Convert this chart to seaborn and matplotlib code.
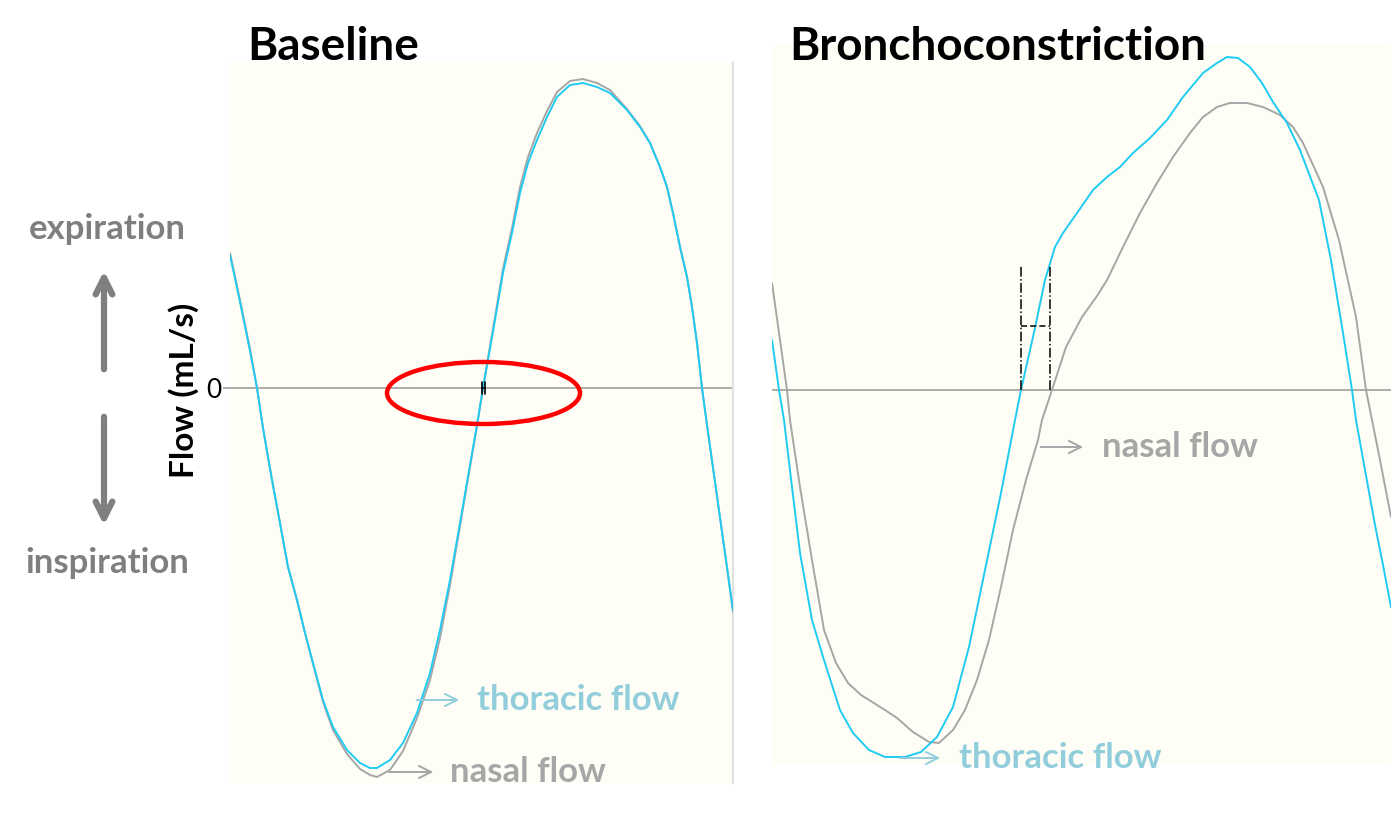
import matplotlib.pyplot as plt
from matplotlib.patches import Ellipse
import pandas as pd
import seaborn as sns

# time (ms from start of window) and flow (mL/s, arbitrary scale, 0 = no flow)
base_t = [0, 10, 20, 27, 33, 42, 50, 58, 67, 75, 83, 93, 103, 117, 130, 140, 147, 160, 173, 187,
          200, 210, 220, 230, 240, 247, 253, 258, 265, 273, 282, 290, 298, 307, 317, 327, 340,
          353, 367, 380, 397, 410, 420, 430, 437, 443, 450, 457, 462, 467, 472, 477, 485, 495, 503]
base_thoracic = [133, 86, 37, 0, -40, -92, -135, -179, -212, -245, -275, -312, -339, -362, -375,
                 -380, -380, -372, -355, -325, -285, -242, -192, -135, -77, -37, 0, 28, 68, 115,
                 155, 195, 225, 248, 271, 291, 303, 305, 301, 295, 278, 261, 245, 221, 201, 175,
                 141, 111, 81, 45, 0, -37, -94, -165, -222]
base_nasal = [135, 88, 39, 0, -40, -92, -135, -179, -212, -245, -276, -314, -342, -366, -381,
              -387, -389, -382, -363, -330, -292, -250, -197, -138, -79, -38, 0, 30, 71, 119,
              160, 201, 231, 255, 277, 296, 307, 309, 305, 298, 279, 262, 245, 221, 201, 175,
              141, 111, 81, 45, 0, -37, -94, -165, -224]

broncho_t_thoracic = [0, 7, 12, 20, 28, 40, 52, 68, 81, 97, 113, 133, 149, 165, 181, 197, 213,
                      229, 243, 249, 263, 273, 283, 291, 305, 321, 335, 348, 361, 378, 395, 411,
                      431, 445, 455, 466, 478, 490, 501, 515, 528, 547, 559, 571, 580, 584, 593,
                      603, 611, 619]
broncho_thoracic = [50, 0, -30, -97, -163, -230, -270, -320, -343, -360, -367, -367, -362, -347,
                    -317, -257, -180, -103, -30, 0, 62, 110, 143, 157, 177, 200, 213, 223, 237,
                    252, 270, 293, 317, 327, 333, 332, 323, 307, 288, 267, 240, 190, 130, 57, 0,
                    -30, -80, -135, -175, -217]
broncho_t_nasal = [0, 8, 15, 18, 28, 40, 52, 64, 76, 89, 113, 125, 141, 157, 167, 181, 193, 205,
                   217, 229, 241, 254, 266, 270, 280, 294, 310, 325, 335, 351, 368, 385, 401, 418,
                   431, 445, 458, 475, 491, 508, 521, 531, 551, 567, 584, 594, 600, 608, 619]
broncho_nasal = [107, 50, 0, -30, -97, -170, -240, -273, -293, -305, -320, -328, -342, -352, -353,
                 -340, -320, -290, -250, -197, -140, -90, -50, -30, 0, 43, 73, 94, 110, 143, 177,
                 207, 233, 257, 273, 283, 287, 287, 283, 275, 263, 247, 203, 150, 73, 0, -30, -70,
                 -127]

# zero-crossing times used for the delay markers
base_zero = [252, 255]
broncho_zero = [249, 278]

BG = '#FEFEF6'
CYAN = '#1FCBF2'
GREY = '#A6A6A6'
THOR_TXT = '#92CDDC'
NASAL_TXT = '#A6A6A6'
SIDE_TXT = '#7F7F7F'

sns.set_style('white')
plt.rcParams['font.family'] = ['Lato', 'DejaVu Sans']
plt.rcParams['text.color'] = 'black'
plt.rcParams['ytick.color'] = 'black'

W, H = 1391, 817
fig = plt.figure(figsize=(W / 100, H / 100), dpi=100)


def box(x0, y0, x1, y1):
    return [x0 / W, 1 - y1 / H, (x1 - x0) / W, (y1 - y0) / H]


ax1 = fig.add_axes(box(230, 62, 733, 783))
ax2 = fig.add_axes(box(772, 45, 1391, 765))

pal = {'nasal': GREY, 'thoracic': CYAN}

df1 = pd.concat([
    pd.DataFrame({'t': base_t, 'flow': base_nasal, 'signal': 'nasal'}),
    pd.DataFrame({'t': base_t, 'flow': base_thoracic, 'signal': 'thoracic'}),
])
df2 = pd.concat([
    pd.DataFrame({'t': broncho_t_nasal, 'flow': broncho_nasal, 'signal': 'nasal'}),
    pd.DataFrame({'t': broncho_t_thoracic, 'flow': broncho_thoracic, 'signal': 'thoracic'}),
])

for ax, df in [(ax1, df1), (ax2, df2)]:
    ax.set_facecolor(BG)
    ax.axhline(0, color=GREY, lw=1.3, zorder=1)
    sns.lineplot(data=df, x='t', y='flow', hue='signal', hue_order=['nasal', 'thoracic'],
                 palette=pal, linewidth=1.4, legend=False, ax=ax, zorder=3)
    ax.set(xlabel='', ylabel='')
    ax.set_xticks([])
    for s in ax.spines.values():
        s.set_visible(False)

ax1.set_xlim(0, 503)
ax1.set_ylim(-395, 326)
ax1.spines['right'].set_visible(True)
ax1.spines['right'].set_color('#E2E2E2')
ax1.spines['right'].set_linewidth(1.5)
ax1.set_yticks([0])
ax1.set_yticklabels(['0'])
ax1.tick_params(axis='y', left=True, length=5, width=1.3, color=GREY, pad=1, labelsize=19,
                labelcolor='black')

ax2.set_xlim(0, 619)
ax2.set_ylim(-375, 345)
ax2.set_yticks([])

# tiny delay marker at baseline and the red ellipse around it
for t in base_zero:
    ax1.plot([t, t], [-6, 6], color='black', lw=1.2, zorder=4)
ax1.plot(base_zero, [0, 0], color='black', lw=1.2, zorder=4)
ax1.add_patch(Ellipse((sum(base_zero) / 2, -5), 193, 62, fill=False, ec='#FF0000', lw=3.2,
                      zorder=5, clip_on=False))

# delay marker in bronchoconstriction
for t in broncho_zero:
    ax2.plot([t, t], [0, 125], color='black', lw=1.1, ls='-.', zorder=4)
ax2.plot(broncho_zero, [64, 64], color='black', lw=1.1, ls=(0, (4, 2)), zorder=4)

# curve labels
lab = dict(fontsize=25, fontweight='bold', va='center', ha='left')


def tag(ax, x0, x1, y, text, x_text, c_arrow, c_text):
    ax.annotate('', xy=(x1, y), xytext=(x0, y),
                arrowprops=dict(arrowstyle='->', color=c_arrow, lw=1.4,
                                mutation_scale=22), annotation_clip=False)
    ax.text(x_text, y, text, color=c_text, clip_on=False, **lab)


tag(ax1, 184, 232, -312, 'thoracic flow', 247, THOR_TXT, THOR_TXT)
tag(ax1, 156, 206, -384, 'nasal flow', 220, NASAL_TXT, NASAL_TXT)
tag(ax2, 266, 314, -57, 'nasal flow', 330, NASAL_TXT, NASAL_TXT)
tag(ax2, 125, 171, -368, 'thoracic flow', 187, THOR_TXT, THOR_TXT)

# titles
fig.text(247 / W, 1 - 47 / H, 'Baseline', fontsize=33, fontweight='bold', ha='left',
         va='center', color='black')
fig.text(789 / W, 1 - 47 / H, 'Bronchoconstriction', fontsize=33, fontweight='bold',
         ha='left', va='center', color='black')

# axis label and direction hints
fig.text(184 / W, 1 - 390 / H, 'Flow (mL/s)', rotation=90, fontsize=24, fontweight='bold',
         ha='center', va='center', color='black')
fig.text(107 / W, 1 - 229 / H, 'expiration', fontsize=25, fontweight='bold', color=SIDE_TXT,
         ha='center', va='center')
fig.text(107 / W, 1 - 563 / H, 'inspiration', fontsize=25, fontweight='bold', color=SIDE_TXT,
         ha='center', va='center')
arr = dict(arrowstyle='->', color=SIDE_TXT, lw=4.5, mutation_scale=30)
ax1.annotate('', xy=(104 / W, 1 - 268 / H), xytext=(104 / W, 1 - 372 / H),
             xycoords='figure fraction', textcoords='figure fraction', arrowprops=arr)
ax1.annotate('', xy=(104 / W, 1 - 528 / H), xytext=(104 / W, 1 - 414 / H),
             xycoords='figure fraction', textcoords='figure fraction', arrowprops=arr)

fig.savefig('out.png', dpi=100, facecolor='white')
